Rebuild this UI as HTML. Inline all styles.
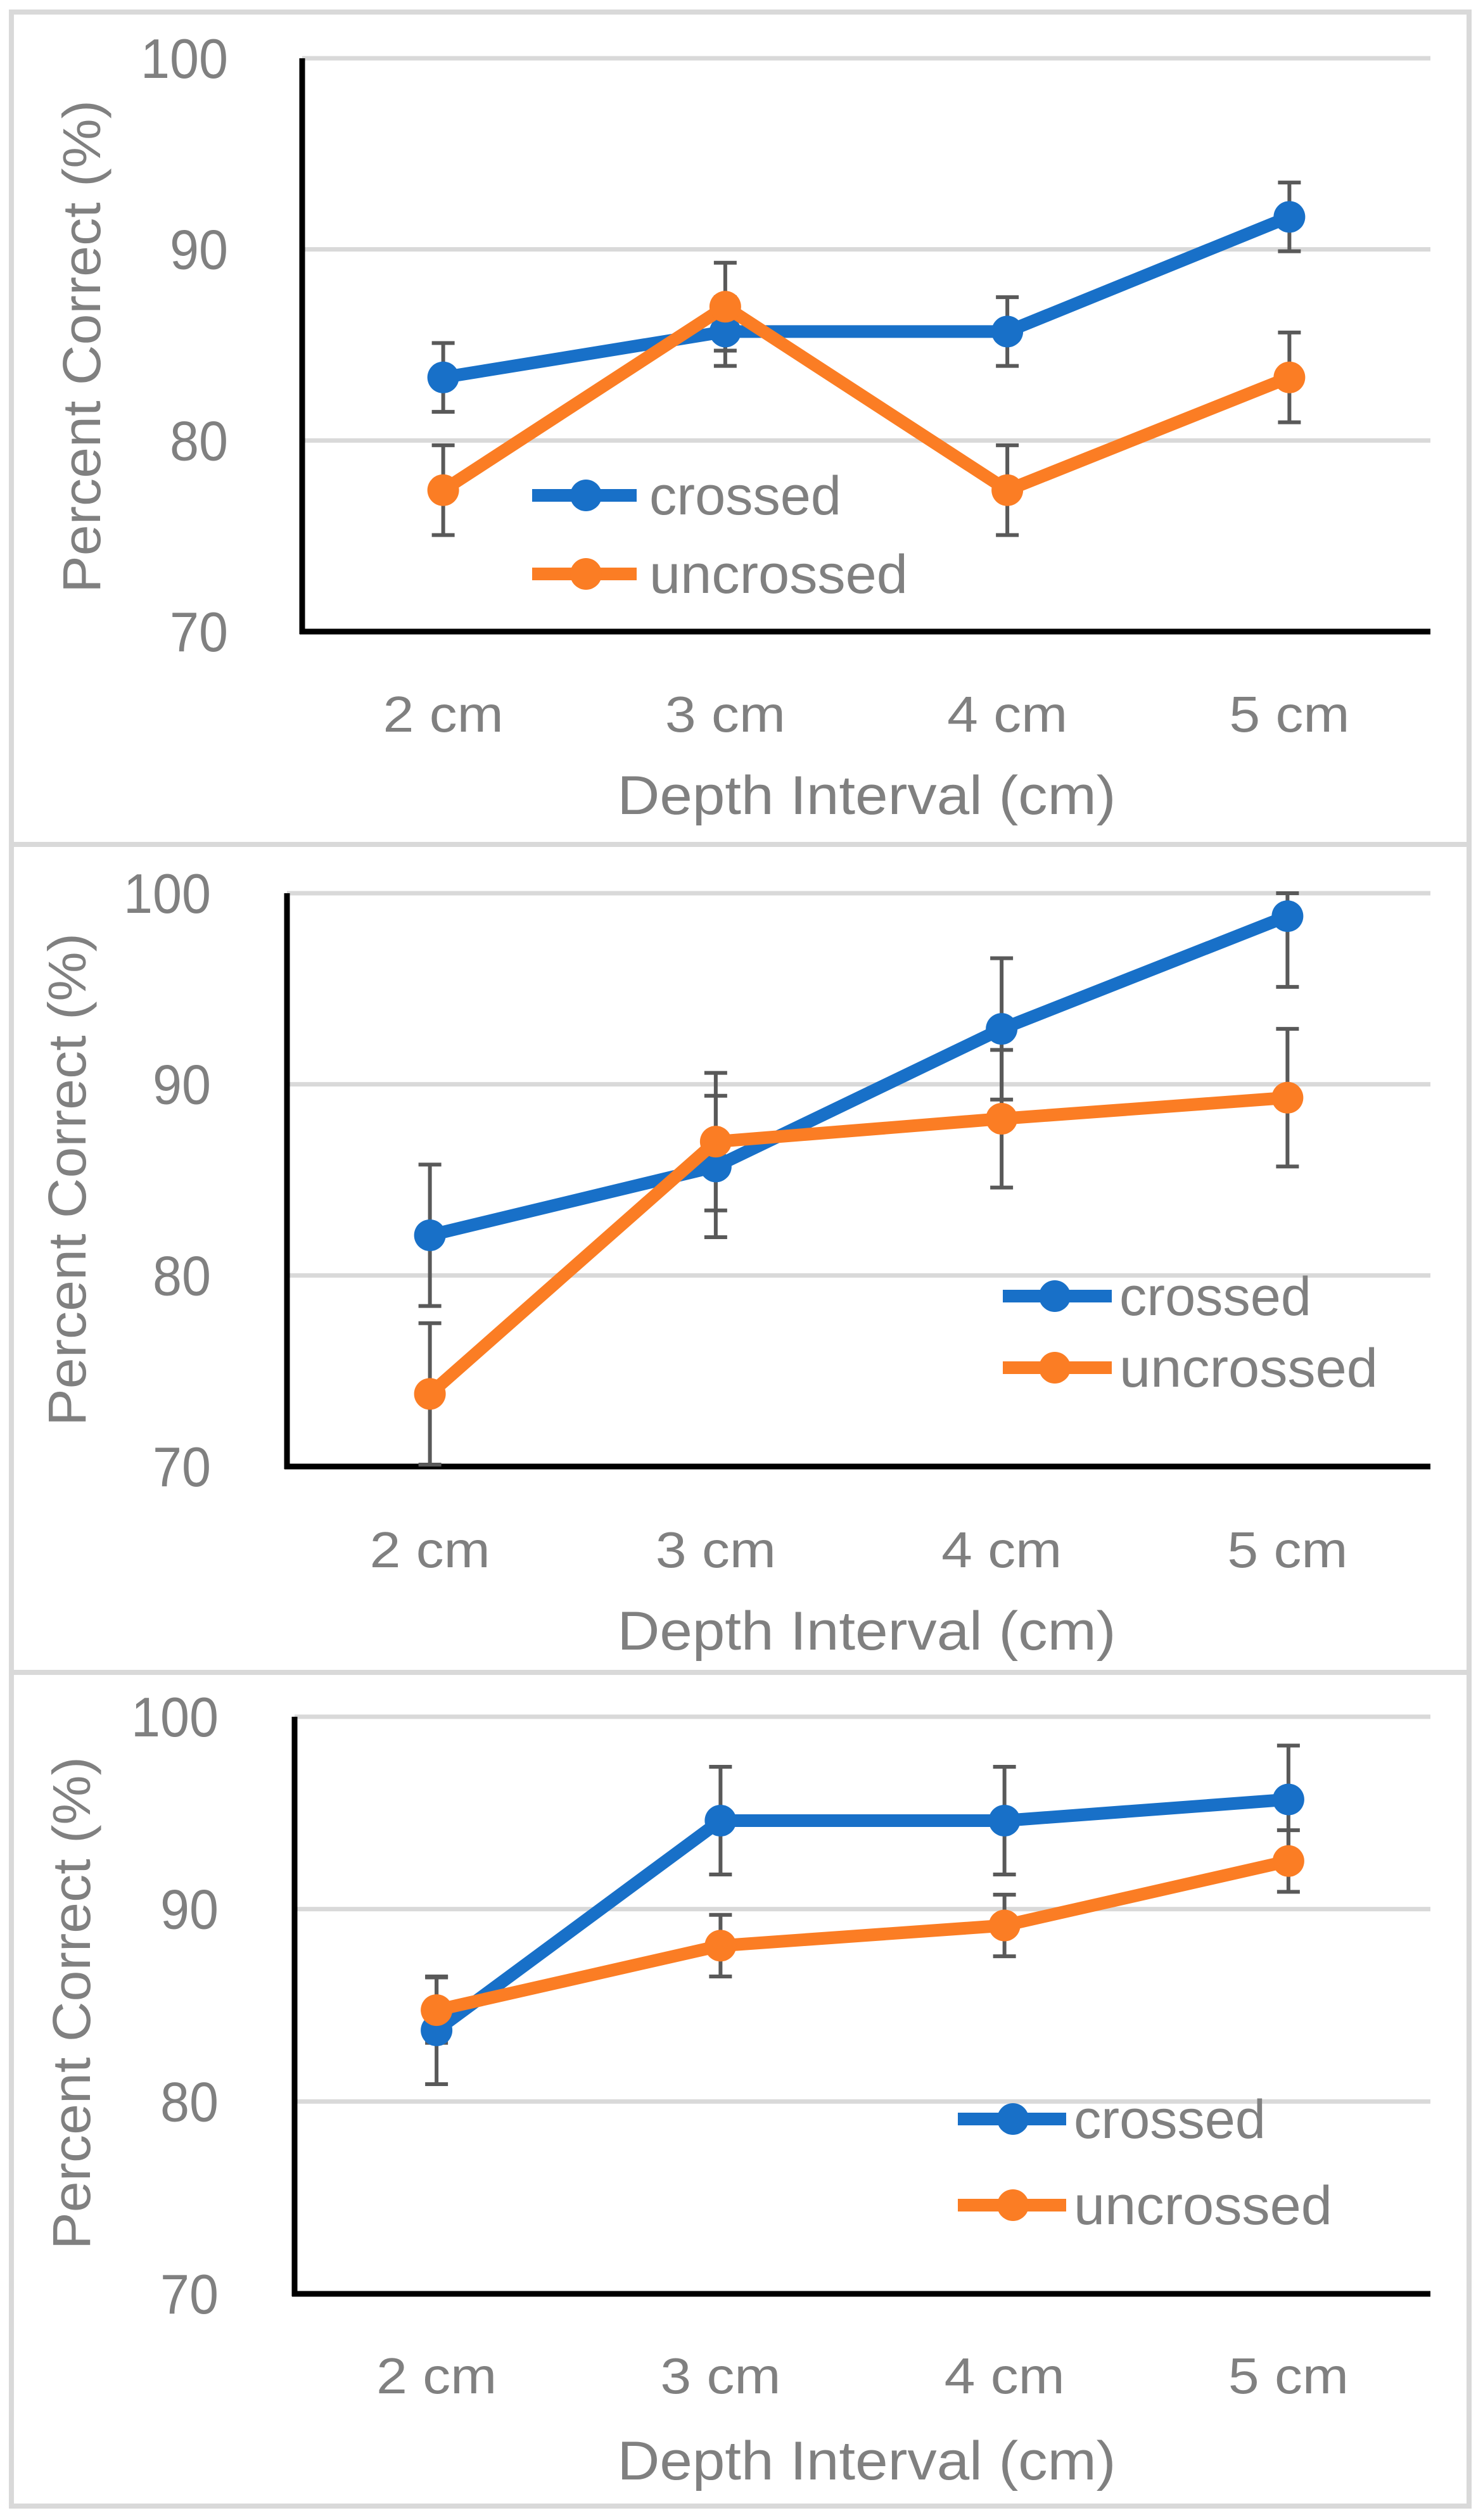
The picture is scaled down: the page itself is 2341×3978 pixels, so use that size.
<!DOCTYPE html>
<html><head><meta charset="utf-8">
<style>
html,body{margin:0;padding:0;background:#fff;}
svg{display:block;}
text{font-family:"Liberation Sans",sans-serif;fill:#808080;}
</style></head>
<body>
<svg id="chart" width="2341" height="3978" viewBox="0 0 2341 3978" xmlns="http://www.w3.org/2000/svg"></svg>
<script>
const categories = ["2 cm", "3 cm", "4 cm", "5 cm"];
const yTicks = [70, 80, 90, 100];
const seriesNames = ["crossed", "uncrossed"];
// panel A
const crossedA = [83.3, 85.7, 85.7, 91.7];
const crossedErrA = [1.8, 1.8, 1.8, 1.8];
const uncrossedA = [77.4, 87.0, 77.4, 83.3];
const uncrossedErrA = [2.35, 2.3, 2.35, 2.35];
// panel B
const crossedB = [82.1, 85.7, 92.9, 98.8];
const crossedErrB = [3.7, 3.7, 3.7, 3.7];
const uncrossedB = [73.8, 87.0, 88.2, 89.3];
const uncrossedErrB = [3.7, 3.6, 3.6, 3.6];
// panel C
const crossedC = [83.7, 94.6, 94.6, 95.7];
const crossedErrC = [2.8, 2.8, 2.8, 2.8];
const uncrossedC = [84.75, 88.1, 89.15, 92.5];
const uncrossedErrC = [1.7, 1.6, 1.6, 1.6];

const NS = "http://www.w3.org/2000/svg";
const svg = document.getElementById("chart");
function mk(tag, attrs, parent) {
  const e = document.createElementNS(NS, tag);
  for (const k in attrs) e.setAttribute(k, attrs[k]);
  (parent || svg).appendChild(e);
  return e;
}
const BLUE = "#1870c8", ORANGE = "#fb7d24";

const panels = [
  {id:"a", top:19, bottom:1333, left:477, right:2258, y100:92, y70:997, tickR:360, titleX:128, titleY:547, catY:1155, xtY:1285,
   c:crossedA, ce:crossedErrA, u:uncrossedA, ue:uncrossedErrA, lx1:840, lx2:1005, lm:925, ly1:782, ly2:906, ltx:1025},
  {id:"b", top:1333, bottom:2640, left:453, right:2258, y100:1410, y70:2315, tickR:333, titleX:105, titleY:1862, catY:2474, xtY:2604,
   c:crossedB, ce:crossedErrB, u:uncrossedB, ue:uncrossedErrB, lx1:1583, lx2:1755, lm:1665, ly1:2046, ly2:2159, ltx:1767},
  {id:"c", top:2640, bottom:3956, left:465, right:2258, y100:2710, y70:3621, tickR:345, titleX:112, titleY:3162, catY:3778, xtY:3914,
   c:crossedC, ce:crossedErrC, u:uncrossedC, ue:uncrossedErrC, lx1:1512, lx2:1683, lm:1599, ly1:3345, ly2:3481, ltx:1695}
];

panels.forEach(p => {
  const g = mk("g", {});
  
  
  const frame = mk("rect", {x:18, y:p.top, width:2301, height:p.bottom - p.top, fill:"none", stroke:"#d9d9d9", "stroke-width":8}, g);
  
  
  const yS = v => p.y70 + (v - 70) / 30 * (p.y100 - p.y70);
  const bw = (p.right - p.left) / categories.length;
  const xS = i => p.left + bw * (i + 0.5);

  yTicks.forEach(t => {
    if (t > 70) {
      const gl = mk("line", {x1:p.left, x2:p.right, y1:yS(t), y2:yS(t), stroke:"#d9d9d9", "stroke-width":7}, g);
      
      
    }
    const tl = mk("text", {x:p.tickR, y:yS(t) + 31, "text-anchor":"end", "font-size":88, textLength: String(t).length * 46, lengthAdjust:"spacingAndGlyphs"}, g);
    tl.textContent = t;
    
    
  });
  const ya = mk("line", {x1:p.left, x2:p.left, y1:p.y100, y2:p.y70 + 4, stroke:"#000", "stroke-width":9}, g);
  
  
  const xa = mk("line", {x1:p.left - 4, x2:p.right, y1:p.y70, y2:p.y70, stroke:"#000", "stroke-width":9}, g);
  
  

  categories.forEach((c, i) => {
    const cl = mk("text", {x:xS(i), y:p.catY, "text-anchor":"middle", "font-size":80, textLength:190, lengthAdjust:"spacingAndGlyphs"}, g);
    cl.textContent = c;
    
    
  });
  const yt = mk("text", {x:0, y:0, "text-anchor":"middle", "font-size":84, textLength:778, lengthAdjust:"spacingAndGlyphs", transform:`translate(${p.titleX + 30},${p.titleY}) rotate(-90)`}, g);
  yt.textContent = "Percent Correct (%)";
  
  
  const xt = mk("text", {x:1368, y:p.xtY, "text-anchor":"middle", "font-size":86, textLength:787, lengthAdjust:"spacingAndGlyphs"}, g);
  xt.textContent = "Depth Interval (cm)";
  
  

  const series = [{v:p.c, e:p.ce, col:BLUE, n:"crossed"}, {v:p.u, e:p.ue, col:ORANGE, n:"uncrossed"}];
  series.forEach(s => {
    s.v.forEach((v, i) => {
      const top = Math.min(100, v + s.e[i]);
      const bot = v - s.e[i];
      const eb = mk("path", {d:`M${xS(i)},${yS(top)}V${yS(bot)}M${xS(i)-18},${yS(top)}H${xS(i)+18}M${xS(i)-18},${yS(bot)}H${xS(i)+18}`, stroke:"#595959", "stroke-width":6, fill:"none"}, g);
      
      
    });
  });
  series.forEach(s => {
    const ln = mk("polyline", {points:s.v.map((v, i) => xS(i) + "," + yS(v)).join(" "), fill:"none", stroke:s.col, "stroke-width":20, "stroke-linejoin":"round"}, g);
    
    
    s.v.forEach((v, i) => {
      const m = mk("circle", {cx:xS(i), cy:yS(v), r:25, fill:s.col}, g);
      
      
    });
  });
  [[p.ly1, BLUE, seriesNames[0], 303], [p.ly2, ORANGE, seriesNames[1], 408]].forEach(([ly, col, name, tw]) => {
    const lg = mk("g", {}, g);
    
    
    mk("line", {x1:p.lx1, x2:p.lx2, y1:ly, y2:ly, stroke:col, "stroke-width":20}, lg);
    mk("circle", {cx:p.lm, cy:ly, r:25, fill:col}, lg);
    const lt = mk("text", {x:p.ltx, y:ly + 30, "font-size":86, textLength:tw, lengthAdjust:"spacingAndGlyphs"}, lg);
    lt.textContent = name;
  });
});
</script>
</body></html>
